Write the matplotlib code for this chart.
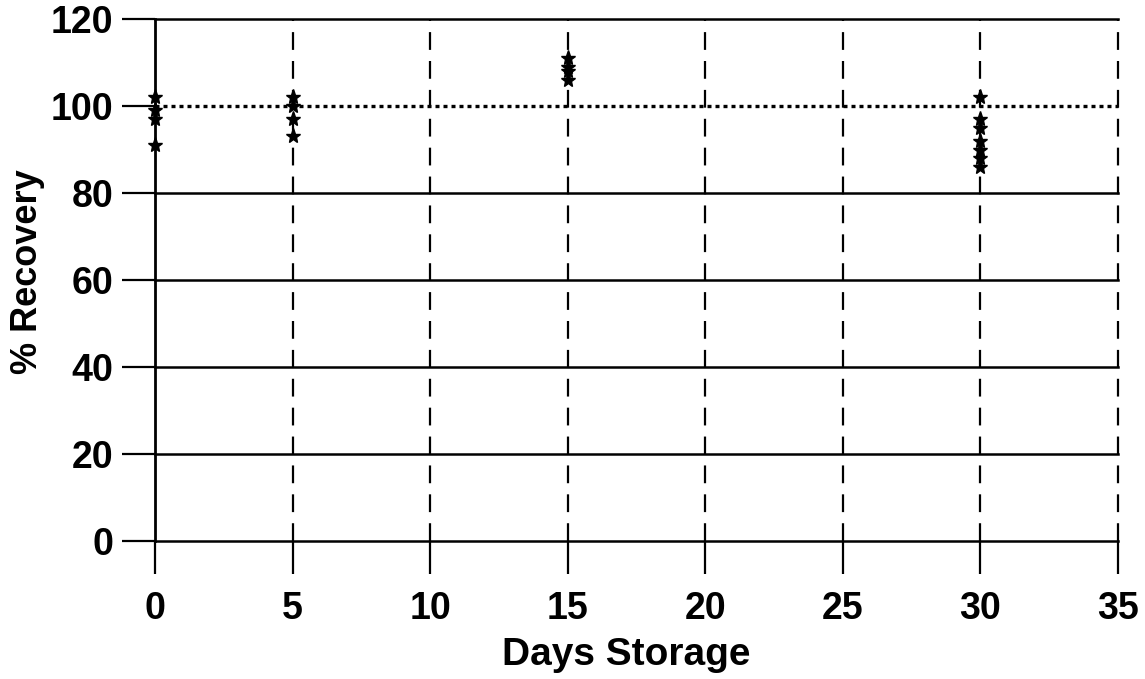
import matplotlib
matplotlib.use('Agg')
import matplotlib.pyplot as plt

# values
day0 = [102, 99, 97, 91]
day5 = [102, 100, 97, 93]
day15 = [111, 109, 108, 106]
day30 = [102, 97, 95, 92, 90, 88, 86]
days = [0, 5, 15, 30]
recoveries = [day0, day5, day15, day30]

x_ticks = [0, 5, 10, 15, 20, 25, 30, 35]
y_ticks = [0, 20, 40, 60, 80, 100, 120]


def main():
    plt.rcParams['font.family'] = ['Liberation Sans', 'DejaVu Sans']
    plt.rcParams['font.weight'] = 'bold'

    fig = plt.figure(figsize=(11.45, 6.79), dpi=100)
    ax = fig.add_axes([0.1354, 0.2032, 0.841, 0.7688])

    ax.set_xlim(0, 35)
    ax.set_ylim(0, 120)

    # solid horizontal lines, dotted at 100
    for y in y_ticks:
        if y == 100:
            ax.axhline(y, color='black', lw=2.4, ls=(0, (1.2, 1.2)), zorder=1, clip_on=False)
        else:
            ax.axhline(y, color='black', lw=1.8, ls='-', zorder=1, clip_on=False)
    # dashed verticals
    for x in x_ticks[1:]:
        ax.axvline(x, color='black', lw=1.6, ls=(0, (8, 5)), zorder=1, clip_on=False)

    for d, vals in zip(days, recoveries):
        ax.plot([d] * len(vals), vals, ls='none', marker='*', ms=11,
                color='black', zorder=3, clip_on=False)

    for side in ['top', 'right', 'bottom']:
        ax.spines[side].set_visible(False)
    ax.spines['left'].set_linewidth(2)

    ax.set_xticks(x_ticks)
    ax.set_yticks(y_ticks)
    ax.tick_params(axis='both', direction='out', length=24, width=1.6,
                   labelsize=27, pad=6)
    ax.tick_params(axis='x', pad=12)

    fig.text(0.547, 0.035, 'Days Storage', fontsize=28, fontweight='bold',
             ha='center', va='center')
    fig.text(0.024, 0.60, '% Recovery', fontsize=26, fontweight='bold',
             rotation=90, ha='center', va='center')

    fig.savefig('out.png', dpi=100)


if __name__ == '__main__':
    main()
